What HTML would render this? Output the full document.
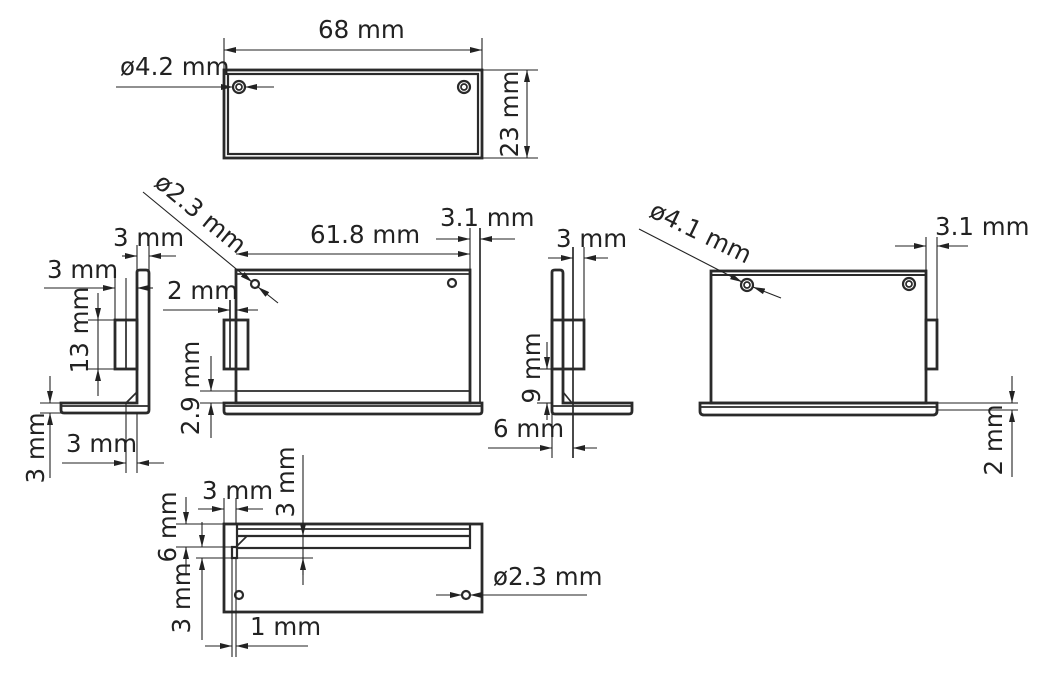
<!DOCTYPE html>
<html><head><meta charset="utf-8"><style>
html,body{margin:0;padding:0;background:#fff;}
svg{display:block}
text{font-family:"DejaVu Sans","Liberation Sans",sans-serif;font-size:24.5px;fill:#222}
.o{fill:none;stroke:#2a2a2a;stroke-width:2.8}
.t{fill:none;stroke:#2a2a2a;stroke-width:1.7}
.d{fill:none;stroke:#222;stroke-width:1.1}
.a{fill:none;stroke:#222;stroke-width:1.1;marker-end:url(#ar)}
</style></head><body>
<svg width="1049" height="677" viewBox="0 0 1049 677" xmlns="http://www.w3.org/2000/svg">
<defs><marker id="ar" markerWidth="12" markerHeight="6" refX="12" refY="3" orient="auto" markerUnits="userSpaceOnUse"><path d="M0,0 L12,3 L0,6 z" fill="#222"/></marker></defs>

<!-- TOP VIEW -->
<rect class="o" x="224" y="70" width="258" height="88"/>
<rect class="o" x="228" y="74" width="250" height="80" style="stroke-width:2.2"/>
<circle class="o" cx="239" cy="87" r="6" style="stroke-width:2.2"/><circle class="t" cx="239" cy="87" r="3"/>
<circle class="o" cx="464" cy="87" r="6" style="stroke-width:2.2"/><circle class="t" cx="464" cy="87" r="3"/>
<line class="d" x1="224" y1="38" x2="224" y2="70"/><line class="d" x1="482" y1="38" x2="482" y2="70"/>
<line class="a" x1="353" y1="50" x2="224" y2="50"/><line class="a" x1="353" y1="50" x2="482" y2="50"/>
<text x="318" y="38">68 mm</text>
<text x="120" y="75">ø4.2 mm</text>
<line class="a" x1="116" y1="87" x2="233" y2="87"/><line class="a" x1="274" y1="87" x2="245" y2="87"/>
<line class="d" x1="482" y1="70" x2="538" y2="70"/><line class="d" x1="482" y1="158" x2="538" y2="158"/>
<line class="a" x1="527" y1="114" x2="527" y2="70"/><line class="a" x1="527" y1="114" x2="527" y2="158"/>
<text transform="translate(518,114) rotate(-90)" text-anchor="middle">23 mm</text>

<!-- LEFT SIDE VIEW -->
<path class="o" d="M137,403 V272 Q137,270 140,270 H146 Q149,270 149,273 V410 Q149,413 146,413 H64 Q61,413 61,410 V403 Z"/>
<line class="t" x1="61" y1="406" x2="149" y2="406"/>
<rect class="o" x="115" y="320" width="22" height="49"/>
<line class="t" x1="126" y1="320" x2="126" y2="369"/>
<line class="t" x1="126" y1="403" x2="137" y2="392"/>
<line class="d" x1="137" y1="245" x2="137" y2="270"/><line class="d" x1="149" y1="245" x2="149" y2="270"/>
<line class="a" x1="122" y1="256" x2="137" y2="256"/><line class="a" x1="176" y1="256" x2="149" y2="256"/>
<text x="113" y="246">3 mm</text>
<line class="d" x1="115" y1="278" x2="115" y2="320"/><line class="d" x1="126" y1="278" x2="126" y2="320"/>
<line class="a" x1="44" y1="288" x2="115" y2="288"/><line class="a" x1="153" y1="288" x2="137" y2="288"/>
<text x="47" y="278">3 mm</text>
<line class="d" x1="88" y1="320" x2="115" y2="320"/><line class="d" x1="88" y1="369" x2="115" y2="369"/>
<line class="a" x1="98" y1="293" x2="98" y2="320"/><line class="a" x1="98" y1="396" x2="98" y2="369"/>
<line class="d" x1="98" y1="320" x2="98" y2="369"/>
<text transform="translate(88,330) rotate(-90)" text-anchor="middle">13 mm</text>
<line class="d" x1="40" y1="403" x2="61" y2="403"/><line class="d" x1="40" y1="413" x2="61" y2="413"/>
<line class="a" x1="50" y1="376" x2="50" y2="403"/><line class="a" x1="50" y1="478" x2="50" y2="413"/>
<text transform="translate(44,448) rotate(-90)" text-anchor="middle">3 mm</text>
<line class="d" x1="126" y1="403" x2="126" y2="473"/><line class="d" x1="137" y1="413" x2="137" y2="473"/>
<line class="a" x1="62" y1="463" x2="126" y2="463"/><line class="a" x1="164" y1="463" x2="137" y2="463"/>
<text x="66" y="452">3 mm</text>

<!-- FRONT VIEW -->
<rect class="o" x="236" y="270" width="234" height="133"/>
<line class="t" x1="236" y1="274" x2="470" y2="274"/>
<line class="t" x1="236" y1="391" x2="470" y2="391"/>
<path class="o" d="M224,403 H482 V411 Q482,414 479,414 H227 Q224,414 224,411 Z"/>
<line class="t" x1="224" y1="406" x2="482" y2="406"/>
<line class="t" x1="480" y1="228" x2="480" y2="403"/>
<line class="d" x1="470" y1="228" x2="470" y2="270"/>
<circle class="o" cx="255" cy="284" r="4" style="stroke-width:2.2"/>
<circle class="o" cx="452" cy="283" r="4" style="stroke-width:2.2"/>
<line class="a" x1="143" y1="192" x2="252" y2="282"/><line class="a" x1="278" y1="303" x2="258" y2="287"/>
<text transform="translate(153,185) rotate(39.4)">ø2.3 mm</text>
<line class="a" x1="353" y1="254" x2="236" y2="254"/><line class="a" x1="353" y1="254" x2="470" y2="254"/>
<text x="310" y="243">61.8 mm</text>
<line class="a" x1="436" y1="239" x2="470" y2="239"/><line class="a" x1="515" y1="239" x2="480" y2="239"/>
<text x="440" y="226">3.1 mm</text>
<rect class="o" x="224" y="320" width="24" height="49"/>
<line class="t" x1="230" y1="300" x2="230" y2="369"/><line class="t" x1="236" y1="300" x2="236" y2="369"/>
<line class="a" x1="163" y1="310" x2="230" y2="310"/><line class="a" x1="258" y1="310" x2="236" y2="310"/>
<text x="167" y="299">2 mm</text>
<line class="d" x1="200" y1="391" x2="236" y2="391"/><line class="d" x1="200" y1="403" x2="224" y2="403"/>
<line class="a" x1="211" y1="356" x2="211" y2="391"/><line class="a" x1="211" y1="438" x2="211" y2="403"/>
<text transform="translate(199,388) rotate(-90)" text-anchor="middle">2.9 mm</text>

<!-- MIDDLE SIDE VIEW -->
<path class="o" d="M552,403 V272 Q552,270 555,270 H560 Q563,270 563,273 V403 H632 V411 Q632,414 629,414 H555 Q552,414 552,411 Z"/>
<line class="t" x1="552" y1="406" x2="632" y2="406"/>
<rect class="o" x="552" y="320" width="32" height="49"/>
<line class="t" x1="573" y1="247" x2="573" y2="458"/>
<line class="d" x1="584" y1="247" x2="584" y2="320"/>
<line class="t" x1="563" y1="392" x2="572" y2="403"/>
<line class="a" x1="548" y1="258" x2="573" y2="258"/><line class="a" x1="608" y1="258" x2="584" y2="258"/>
<text x="556" y="247">3 mm</text>
<line class="d" x1="537" y1="369" x2="552" y2="369"/><line class="d" x1="537" y1="403" x2="552" y2="403"/>
<line class="a" x1="547" y1="342" x2="547" y2="369"/><line class="a" x1="547" y1="420" x2="547" y2="403"/>
<text transform="translate(540,368) rotate(-90)" text-anchor="middle">9 mm</text>
<line class="d" x1="552" y1="414" x2="552" y2="458"/>
<line class="a" x1="488" y1="448" x2="552" y2="448"/><line class="a" x1="597" y1="448" x2="573" y2="448"/>
<text x="493" y="437">6 mm</text>

<!-- RIGHT FRONT VIEW -->
<rect class="o" x="711" y="271" width="215" height="132"/>
<line class="o" x1="711" y1="275" x2="926" y2="275" style="stroke-width:2"/>
<path class="o" d="M700,403 H937 V411 Q937,415 933,415 H704 Q700,415 700,411 Z"/>
<line class="t" x1="700" y1="407" x2="937" y2="407"/>
<rect class="o" x="926" y="320" width="11" height="49"/>
<circle class="o" cx="747" cy="285" r="6" style="stroke-width:2.2"/><circle class="t" cx="747" cy="285" r="3"/>
<circle class="o" cx="909" cy="284" r="6" style="stroke-width:2.2"/><circle class="t" cx="909" cy="284" r="3"/>
<line class="a" x1="639" y1="229" x2="742" y2="282"/><line class="a" x1="781" y1="298" x2="753" y2="287"/>
<text transform="translate(648,216) rotate(26)">ø4.1 mm</text>
<line class="d" x1="926" y1="237" x2="926" y2="271"/><line class="d" x1="937" y1="237" x2="937" y2="320"/>
<line class="a" x1="895" y1="246" x2="926" y2="246"/><line class="a" x1="968" y1="246" x2="937" y2="246"/>
<text x="935" y="235">3.1 mm</text>
<line class="d" x1="937" y1="403" x2="1018" y2="403"/><line class="d" x1="937" y1="410" x2="1018" y2="410"/>
<line class="a" x1="1012" y1="376" x2="1012" y2="403"/><line class="a" x1="1012" y1="477" x2="1012" y2="410"/>
<text transform="translate(1002,440) rotate(-90)" text-anchor="middle">2 mm</text>

<!-- BOTTOM VIEW -->
<rect class="o" x="224" y="524" width="258" height="88"/>
<rect class="o" x="237" y="524" width="233" height="24" style="stroke-width:2.2"/>
<line class="t" x1="237" y1="529" x2="470" y2="529"/>
<line class="o" x1="237" y1="536" x2="470" y2="536" style="stroke-width:2.2"/>
<line class="t" x1="237" y1="546" x2="247" y2="536"/>
<rect class="o" x="232" y="547" width="5" height="11" style="stroke-width:2.2"/>
<circle class="o" cx="239" cy="595" r="4" style="stroke-width:2.2"/>
<circle class="o" cx="466" cy="595" r="4" style="stroke-width:2.2"/>
<line class="d" x1="224" y1="498" x2="224" y2="524"/><line class="d" x1="236" y1="498" x2="236" y2="524"/>
<line class="a" x1="198" y1="509" x2="224" y2="509"/><line class="a" x1="263" y1="509" x2="236" y2="509"/>
<text x="202" y="499">3 mm</text>
<line class="d" x1="303" y1="455" x2="303" y2="585"/>
<line class="a" x1="303" y1="520" x2="303" y2="536"/><line class="a" x1="303" y1="575" x2="303" y2="558"/>
<line class="d" x1="196" y1="558" x2="313" y2="558"/>
<text transform="translate(294,482) rotate(-90)" text-anchor="middle">3 mm</text>
<line class="d" x1="176" y1="524" x2="224" y2="524"/><line class="d" x1="176" y1="547" x2="237" y2="547"/>
<line class="a" x1="186" y1="497" x2="186" y2="524"/><line class="a" x1="186" y1="575" x2="186" y2="547"/>
<text transform="translate(176,527) rotate(-90)" text-anchor="middle">6 mm</text>
<line class="a" x1="202" y1="522" x2="202" y2="547"/><line class="a" x1="202" y1="640" x2="202" y2="558"/>
<text transform="translate(190,598) rotate(-90)" text-anchor="middle">3 mm</text>
<line class="d" x1="232" y1="558" x2="232" y2="657"/><line class="d" x1="236" y1="558" x2="236" y2="657"/>
<line class="a" x1="205" y1="646" x2="232" y2="646"/><line class="a" x1="308" y1="646" x2="236" y2="646"/>
<text x="250" y="635">1 mm</text>
<line class="a" x1="436" y1="595" x2="462" y2="595"/><line class="a" x1="587" y1="595" x2="470" y2="595"/>
<text x="493" y="585">ø2.3 mm</text>
</svg>
</body></html>
